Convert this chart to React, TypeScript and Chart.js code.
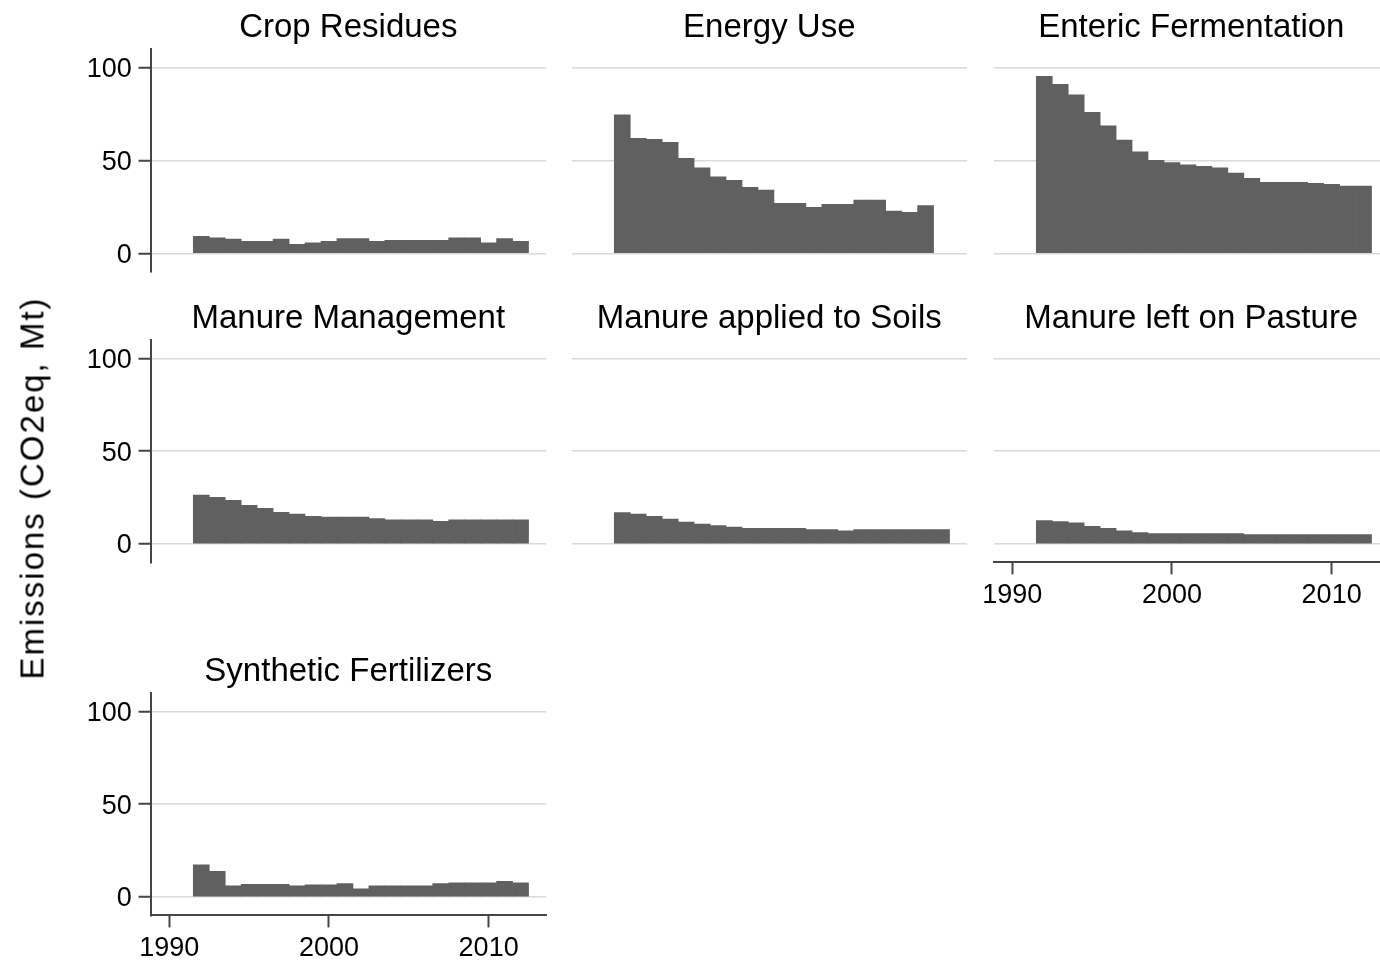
import React, { useEffect, useRef } from "react";
import { Chart, registerables } from "chart.js";

Chart.register(...registerables);

// ---------------- data ----------------
const years = [
  1992, 1993, 1994, 1995, 1996, 1997, 1998, 1999, 2000, 2001, 2002,
  2003, 2004, 2005, 2006, 2007, 2008, 2009, 2010, 2011, 2012,
];

const cropResidues = [9.2, 8.4, 7.7, 6.5, 6.5, 7.7, 4.8, 5.7, 6.5, 7.9, 7.9, 6.5, 7.0, 7.0, 7.0, 7.0, 8.4, 8.4, 5.7, 7.9, 6.5];
const energyUse = [74.7, 62.0, 61.4, 59.8, 51.2, 46.1, 41.3, 39.3, 35.6, 34.1, 26.9, 26.9, 24.8, 26.4, 26.4, 28.7, 28.7, 22.8, 22.1, 25.7, null];
const entericFermentation = [95.4, 91.1, 85.5, 76.0, 68.8, 61.0, 54.7, 50.1, 49.0, 47.7, 46.9, 46.1, 43.3, 40.4, 38.3, 38.3, 38.3, 37.7, 37.2, 36.3, 36.3];
const manureManagement = [26.3, 25.1, 23.5, 20.8, 19.2, 17.0, 16.0, 14.9, 14.4, 14.4, 14.4, 13.6, 12.9, 12.9, 12.9, 12.2, 12.9, 12.9, 12.9, 12.9, 12.9];
const manureAppliedToSoils = [16.9, 16.1, 14.9, 13.4, 11.8, 10.6, 9.9, 9.1, 8.4, 8.4, 8.4, 8.4, 7.7, 7.7, 7.0, 7.7, 7.7, 7.7, 7.7, 7.7, 7.7];
const manureLeftOnPasture = [12.6, 12.0, 11.3, 9.4, 8.3, 7.0, 6.1, 5.6, 5.6, 5.6, 5.6, 5.6, 5.6, 5.0, 5.0, 5.0, 5.0, 5.0, 5.0, 5.0, 5.0];
const syntheticFertilizers = [17.3, 13.7, 5.9, 6.7, 6.7, 6.7, 5.9, 6.5, 6.5, 7.2, 4.3, 5.9, 5.9, 5.9, 5.9, 7.2, 7.6, 7.6, 7.6, 8.3, 7.6];

const panelTitles = [
  "Crop Residues",
  "Energy Use",
  "Enteric Fermentation",
  "Manure Management",
  "Manure applied to Soils",
  "Manure left on Pasture",
  "Synthetic Fertilizers",
];
const panelSeries = [
  cropResidues,
  energyUse,
  entericFermentation,
  manureManagement,
  manureAppliedToSoils,
  manureLeftOnPasture,
  syntheticFertilizers,
];

const yTickValues = [0, 50, 100];
const xTickValues = [1990, 2000, 2010];
const yAxisTitle = "Emissions (CO2eq, Mt)";

// ---------------- layout / style ----------------
const CW = 1400;
const CH = 964;
const COL_LEFT = [150.5, 571.5, 993.5];
const PLOT_W = 395.6;
const ROW_TOP = [49.3, 339.8, 692.8];
const PLOT_H = 222.6;
const Y_AXIS_W = 100;
const X_AXIS_H = 45;
const TITLE_SIZE = 33;
const TITLE_PAD_TOP = 2.8;
const TITLE_PAD_BOTTOM = 1.4;
const TITLE_LINE = TITLE_SIZE * 1.2;
const X_MIN = 1988.82;
const X_MAX = 2013.6;
const Y_MIN = -10;
const Y_MAX = 110;

const FONT = "'Liberation Sans', Arial, Helvetica, sans-serif";
const BAR_COLOR = "#606060";
const GRID_COLOR = "#dadada";
const AXIS_COLOR = "#454545";

function buildConfig(i: number): any {
  const row = Math.floor(i / 3);
  const col = i % 3;
  const showY = col === 0;
  const showX = i === 5 || i === 6;
  const left = COL_LEFT[col];
  const top = ROW_TOP[row];
  const values = panelSeries[i];

  return {
    type: "bar",
    data: {
      datasets: [
        {
          data: years.map((yr, k) => ({ x: yr, y: values[k] })),
          backgroundColor: BAR_COLOR,
          borderWidth: 0,
          barPercentage: 1,
          categoryPercentage: 1,
        },
      ],
    },
    options: {
      responsive: false,
      animation: false,
      events: [],
      layout: {
        autoPadding: false,
        padding: {
          left: left - (showY ? Y_AXIS_W : 0),
          right: CW - (left + PLOT_W),
          top: top - TITLE_LINE - TITLE_PAD_TOP - TITLE_PAD_BOTTOM,
          bottom: CH - (top + PLOT_H) - (showX ? X_AXIS_H : 0),
        },
      },
      plugins: {
        legend: { display: false },
        tooltip: { enabled: false },
        title: {
          display: true,
          text: panelTitles[i],
          fullSize: false,
          color: "#000",
          font: { family: FONT, size: TITLE_SIZE, weight: "normal", lineHeight: 1.2 },
          padding: { top: TITLE_PAD_TOP, bottom: TITLE_PAD_BOTTOM },
        },
      },
      scales: {
        x: {
          type: "linear",
          min: X_MIN,
          max: X_MAX,
          offset: false,
          display: showX,
          afterBuildTicks: (s: any) => {
            s.ticks = xTickValues.map((v) => ({ value: v }));
          },
          afterFit: (s: any) => {
            s.height = showX ? X_AXIS_H : 0;
          },
          grid: {
            offset: false,
            drawOnChartArea: false,
            drawTicks: true,
            tickLength: 12,
            tickColor: AXIS_COLOR,
            tickWidth: 2,
          },
          border: { display: true, color: AXIS_COLOR, width: 2 },
          ticks: {
            color: "#000",
            font: { family: FONT, size: 27 },
            padding: 5,
            maxRotation: 0,
            autoSkip: false,
            callback: (v: any) => String(v),
          },
        },
        y: {
          type: "linear",
          position: "left",
          min: Y_MIN,
          max: Y_MAX,
          display: true,
          afterBuildTicks: (s: any) => {
            s.ticks = yTickValues.map((v) => ({ value: v }));
          },
          afterFit: (s: any) => {
            s.width = showY ? Y_AXIS_W : 0;
          },
          grid: {
            color: GRID_COLOR,
            lineWidth: 1.5,
            drawTicks: showY,
            tickLength: 12,
            tickColor: AXIS_COLOR,
            tickWidth: 2,
          },
          border: { display: showY, color: AXIS_COLOR, width: 2 },
          ticks: {
            display: showY,
            color: "#000",
            font: { family: FONT, size: 27 },
            padding: 6.8,
            labelOffset: 2,
            callback: (v: any) => String(v),
          },
        },
      },
    },
  };
}

export default function App() {
  const refs = useRef<(HTMLCanvasElement | null)[]>([]);

  useEffect(() => {
    const charts = panelTitles.map((_, i) => {
      const canvas = refs.current[i] as HTMLCanvasElement;
      return new Chart(canvas, buildConfig(i));
    });
    return () => {
      charts.forEach((c) => c.destroy());
    };
  }, []);

  return (
    <div
      style={{
        position: "absolute",
        left: 0,
        top: 0,
        width: 1380,
        height: 964,
        overflow: "hidden",
        background: "#fff",
      }}
    >
      {panelTitles.map((t, i) => (
        <canvas
          key={t}
          ref={(el) => {
            refs.current[i] = el;
          }}
          width={CW}
          height={CH}
          style={{ position: "absolute", left: 0, top: 0, width: CW, height: CH }}
        />
      ))}
      <div style={{ position: "absolute", left: 32, top: 487.5, width: 0, height: 0 }}>
        <div
          style={{
            position: "absolute",
            left: 0,
            top: 0,
            transform: "translate(-50%, -50%) rotate(-90deg)",
            whiteSpace: "nowrap",
            fontFamily: FONT,
            fontSize: 33,
            lineHeight: 1,
            letterSpacing: "2px",
            color: "#000",
          }}
        >
          {yAxisTitle}
        </div>
      </div>
    </div>
  );
}
